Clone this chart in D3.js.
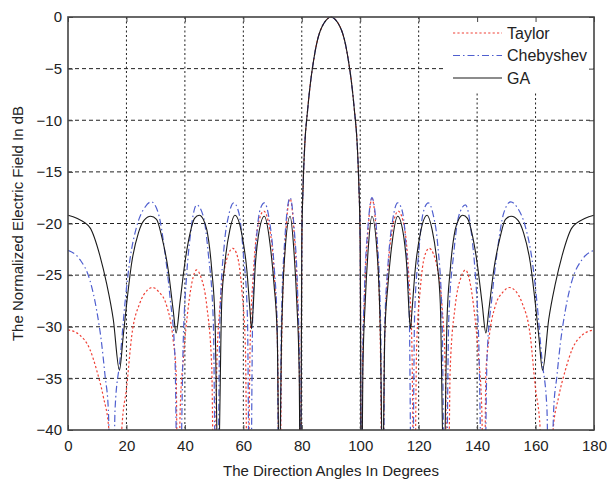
<!DOCTYPE html>
<html>
<head>
<meta charset="utf-8">
<script src="https://cdn.jsdelivr.net/npm/d3@7"></script>
<style>
    body { margin: 0; background: #fff; }
    svg { font-family: "Liberation Sans", Arial, sans-serif; }
</style>
</head>
<body>
<svg id="chart" width="607" height="483"></svg>
<script>
// Tick labels
const xTicks = [0, 20, 40, 60, 80, 100, 120, 140, 160, 180];
const yTicks = [0, -5, -10, -15, -20, -25, -30, -35, -40];

// Series names (legend order)
const seriesNames = ['Taylor', 'Chebyshev', 'GA'];

// Taylor pattern [angle, dB]
const taylor = [
    [0, -30.3], [4, -30.8], [7.5, -32.2], [9.8, -34.2], [12.1, -36.8], [14, -40], [16.2, -60], [18.4, -40],
    [20.1, -35.8], [21.8, -30.9], [24.6, -27.7], [27, -26.5], [29, -26.2], [31, -26.6], [33.8, -28], [36, -31.3],
    [37, -34.5], [37.6, -50], [38.4, -38], [39.5, -33], [41.2, -28], [42.5, -25.6], [44, -24.5], [45.5, -25.2],
    [47.5, -28], [49.2, -34], [50, -50], [50.9, -34], [52, -28], [53.5, -24.5], [55, -22.9], [56.4, -22.4],
    [58, -23.2], [59.5, -26.5], [60.7, -32], [61.5, -50], [62.3, -32], [63.4, -25], [64.8, -20.5], [67, -18.8],
    [69, -20.5], [70.6, -25], [71.7, -32], [72.4, -50], [73.1, -32], [74.2, -22.5], [76, -17.6], [77.4, -21],
    [78.5, -27], [79.2, -35], [79.6, -55], [80, -22], [80.5, -16], [81, -12.5], [82, -9], [83, -6.3],
    [84, -4.3], [85, -2.7], [86, -1.6], [87, -0.9], [88.5, -0.25], [90, 0],
    [91.5, -0.25], [93, -0.9], [94, -1.6], [95, -2.7], [96, -4.3], [97, -6.3], [98, -9], [99, -12.5],
    [99.5, -16], [100, -22], [100.4, -55], [100.8, -35], [101.5, -27], [102.6, -21], [104, -17.6], [105.8, -22.5],
    [106.9, -32], [107.6, -50], [108.3, -32], [109.4, -25], [111, -20.5], [113, -18.8], [115.2, -20.5], [116.6, -25],
    [117.7, -32], [118.5, -50], [119.3, -32], [120.5, -26.5], [122, -23.2], [123.6, -22.4], [125, -22.9], [126.5, -24.5],
    [128, -28], [129.1, -34], [130, -50], [130.8, -34], [132.5, -28], [134.5, -25.2], [136, -24.5], [137.5, -25.6],
    [138.8, -28], [140.5, -33], [141.6, -38], [142.4, -50], [143, -34.5], [144, -31.3], [146.2, -28], [149, -26.6],
    [151, -26.2], [153, -26.5], [155.4, -27.7], [158.2, -30.9], [159.9, -35.8], [161.6, -40], [163.8, -60], [166, -40],
    [167.9, -36.8], [170.2, -34.2], [172.5, -32.2], [176, -30.8], [180, -30.3]
];

// Chebyshev pattern [angle, dB]
const chebyshev = [
    [0, -22.6], [4.1, -23.5], [7.5, -25.5], [9.8, -28.4], [11.5, -31.6], [12.7, -34.8], [13.8, -38], [15.2, -55],
    [16.1, -38], [17.8, -33.2], [19.5, -27.7], [21.2, -23.5], [23.5, -20.3], [26.4, -18.4], [28.5, -17.9], [30.9, -19],
    [33.2, -22.9], [34.9, -27.1], [36.6, -33], [37.8, -55], [39.5, -30.8], [40.6, -25], [41.8, -21.3], [44, -18.2],
    [46.3, -19.3], [48, -22.9], [49.7, -29.3], [50.9, -55], [52, -29], [53.5, -22], [55, -19.2], [56.7, -18],
    [58.5, -19], [60, -22.9], [61.4, -29], [62.3, -55], [63.2, -29], [64.5, -21.5], [65.8, -18.6], [67.2, -18],
    [68.8, -19.5], [70.5, -24], [71.6, -30], [72.3, -55], [73, -30], [74.2, -21.5], [76, -17.5], [77.4, -20.5],
    [78.5, -26], [79.2, -34], [79.6, -55], [80, -22], [80.5, -16], [81, -12.5], [82, -9], [83, -6.3],
    [84, -4.3], [85, -2.7], [86, -1.6], [87, -0.9], [88.5, -0.25], [90, 0],
    [91.5, -0.25], [93, -0.9], [94, -1.6], [95, -2.7], [96, -4.3], [97, -6.3], [98, -9], [99, -12.5],
    [99.5, -16], [100, -22], [100.4, -55], [100.8, -34], [101.5, -26], [102.6, -20.5], [104, -17.5], [105.8, -21.5],
    [107, -30], [107.7, -55], [108.4, -30], [109.5, -24], [111.2, -19.5], [112.8, -18], [114.2, -18.6], [115.5, -21.5],
    [116.8, -29], [117.7, -55], [118.6, -29], [120, -22.9], [121.5, -19], [123.3, -18], [125, -19.2], [126.5, -22],
    [128, -29], [129.1, -55], [130.3, -29.3], [132, -22.9], [133.7, -19.3], [136, -18.2], [138.2, -21.3], [139.4, -25],
    [140.5, -30.8], [142.2, -55], [143.4, -33], [145.1, -27.1], [146.8, -22.9], [149.1, -19], [151.5, -17.9], [153.6, -18.4],
    [156.5, -20.3], [158.8, -23.5], [160.5, -27.7], [162.2, -33.2], [163.9, -38], [164.8, -55], [166.2, -38], [167.3, -34.8],
    [168.5, -31.6], [170.2, -28.4], [172.5, -25.5], [175.9, -23.5], [180, -22.6]
];

// GA pattern [angle, dB]
const ga = [
    [0, -19.2], [3, -19.5], [7.5, -20.4], [11, -23.2], [13.2, -25.8], [15.5, -29.3], [17.6, -34.2], [18.9, -30.9],
    [20.1, -27.7], [21.8, -23.8], [24.1, -20.9], [26, -19.7], [28.3, -19.3], [30.3, -19.6], [32.1, -21.3], [34.3, -24.5],
    [36, -28.4], [37, -30.6], [38.3, -27.7], [40, -23.8], [41.8, -20.9], [43.3, -19.5], [44.9, -19.2], [46.3, -19.6],
    [47.5, -20.6], [49.2, -24.5], [50.3, -29.3], [51.4, -45], [52.6, -27.7], [53.7, -23.8], [55.4, -20.6], [57.1, -19.2],
    [59.4, -20.9], [61.2, -24.5], [62.3, -28.5], [62.8, -30.2], [63.4, -28], [64, -24.5], [65.1, -21.3], [67.2, -19.3],
    [69.1, -21.9], [70.5, -25.9], [71.6, -30.8], [72.3, -45], [73.1, -30.8], [74, -23.8], [76, -19.3], [77.3, -22.6],
    [78.3, -27.7], [79.1, -34.2], [79.6, -50], [80, -22], [80.5, -16], [81, -12.5], [82, -9], [83, -6.3],
    [84, -4.3], [85, -2.7], [86, -1.6], [87, -0.9], [88.5, -0.25], [90, 0],
    [91.5, -0.25], [93, -0.9], [94, -1.6], [95, -2.7], [96, -4.3], [97, -6.3], [98, -9], [99, -12.5],
    [99.5, -16], [100, -22], [100.4, -50], [100.9, -34.2], [101.7, -27.7], [102.7, -22.6], [104, -19.3], [106, -23.8],
    [106.9, -30.8], [107.7, -45], [108.4, -30.8], [109.5, -25.9], [110.9, -21.9], [112.8, -19.3], [114.9, -21.3], [116, -24.5],
    [116.6, -28], [117.2, -30.2], [117.7, -28.5], [118.8, -24.5], [120.6, -20.9], [122.9, -19.2], [124.6, -20.6], [126.3, -23.8],
    [127.4, -27.7], [128.6, -45], [129.7, -29.3], [130.8, -24.5], [132.5, -20.6], [133.7, -19.6], [135.1, -19.2], [136.7, -19.5],
    [138.2, -20.9], [140, -23.8], [141.7, -27.7], [143, -30.6], [144, -28.4], [145.7, -24.5], [147.9, -21.3], [149.7, -19.6],
    [151.7, -19.3], [154, -19.7], [155.9, -20.9], [158.2, -23.8], [159.9, -27.7], [161.1, -30.9], [162.4, -34.2], [164.5, -29.3],
    [166.8, -25.8], [169, -23.2], [172.5, -20.4], [177, -19.5], [180, -19.2]
];

/**
 * Chart zeichnen
 */
function drawChart() {
    const svg = d3.select('#chart');
    const margin = { top: 17, right: 13, bottom: 53, left: 68 };
    const width = 607 - margin.left - margin.right;
    const height = 483 - margin.top - margin.bottom;

    const g = svg.append('g')
        .attr('transform', `translate(${margin.left},${margin.top})`);

    // Skalen
    const xScale = d3.scaleLinear().domain([0, 180]).range([0, width]);
    const yScale = d3.scaleLinear().domain([-40, 0]).range([height, 0]);

    // Gitter
    g.append('g')
        .selectAll('line')
        .data(xTicks.slice(1, -1))
        .enter()
        .append('line')
        .attr('x1', d => xScale(d))
        .attr('x2', d => xScale(d))
        .attr('y1', 0)
        .attr('y2', height)
        .style('stroke', '#222')
        .style('stroke-width', 1)
        .style('stroke-dasharray', '2,2.5');

    g.append('g')
        .selectAll('line')
        .data(yTicks.slice(1, -1))
        .enter()
        .append('line')
        .attr('x1', 0)
        .attr('x2', width)
        .attr('y1', d => yScale(d))
        .attr('y2', d => yScale(d))
        .style('stroke', '#222')
        .style('stroke-width', 1)
        .style('stroke-dasharray', '4,3');

    // Clip
    svg.append('defs').append('clipPath')
        .attr('id', 'plot-clip')
        .append('rect')
        .attr('x', 0)
        .attr('y', -1)
        .attr('width', width)
        .attr('height', height + 1);

    const line = d3.line()
        .x(d => xScale(d[0]))
        .y(d => yScale(d[1]))
        .curve(d3.curveMonotoneX);

    const styles = [
        { data: taylor, color: '#ef4136', dash: '2.2,2.2', w: 1.2 },
        { data: chebyshev, color: '#4f5fcf', dash: '7,3,1.5,3', w: 1.2 },
        { data: ga, color: '#1a1a1a', dash: null, w: 1.1 }
    ];

    const lines = g.append('g').attr('clip-path', 'url(#plot-clip)');
    styles.forEach(s => {
        lines.append('path')
            .datum(s.data)
            .attr('d', line)
            .style('fill', 'none')
            .style('stroke', s.color)
            .style('stroke-width', s.w)
            .style('stroke-dasharray', s.dash);
    });

    // Legende (weisser Hintergrund)
    const legend = g.append('g')
        .attr('transform', `translate(${width - 151}, 0)`);

    legend.append('rect')
        .attr('width', 150)
        .attr('height', 76)
        .attr('fill', '#fff');

    seriesNames.forEach((name, i) => {
        const y = 16 + i * 22.5;
        legend.append('line')
            .attr('x1', 10)
            .attr('x2', 59)
            .attr('y1', y)
            .attr('y2', y)
            .style('stroke', styles[i].color)
            .style('stroke-width', styles[i].w)
            .style('stroke-dasharray', styles[i].dash);
        legend.append('text')
            .attr('x', 64)
            .attr('y', y + 5.5)
            .style('font-size', '16px')
            .style('fill', '#222')
            .text(name);
    });

    // Achsen (Ticks nach innen)
    g.append('g')
        .attr('class', 'axis x-axis')
        .attr('transform', `translate(0,${height})`)
        .call(d3.axisBottom(xScale).tickValues(xTicks).tickSize(-5).tickPadding(10))
        .call(a => a.select('.domain').remove());

    g.append('g')
        .attr('class', 'axis y-axis')
        .call(d3.axisLeft(yScale).tickValues(yTicks).tickSize(-5).tickPadding(6))
        .call(a => a.select('.domain').remove());

    g.append('g')
        .attr('transform', `translate(${width},0)`)
        .call(d3.axisRight(yScale).tickValues(yTicks).tickSize(-5).tickFormat(''))
        .call(a => a.select('.domain').remove());

    g.append('g')
        .call(d3.axisTop(xScale).tickValues(xTicks).tickSize(-5).tickFormat(''))
        .call(a => a.select('.domain').remove());

    g.selectAll('.tick line').style('stroke', '#444');
    g.selectAll('.axis text')
        .style('font-size', '15px')
        .style('fill', '#222')
        .style('font-family', '"Liberation Sans", Arial, sans-serif');

    // Rahmen
    g.append('rect')
        .attr('width', width)
        .attr('height', height)
        .style('fill', 'none')
        .style('stroke', '#444')
        .style('stroke-width', 1.6);

    // Achsenbeschriftungen
    svg.append('text')
        .attr('x', margin.left + width / 2)
        .attr('y', 476)
        .attr('text-anchor', 'middle')
        .style('font-size', '15px')
        .style('fill', '#222')
        .text('The Direction Angles In Degrees');

    svg.append('text')
        .attr('transform', `translate(23,${margin.top + height / 2}) rotate(-90)`)
        .attr('text-anchor', 'middle')
        .style('font-size', '15px')
        .style('fill', '#222')
        .text('The Normalized Electric Field In dB');
}

drawChart();
</script>
</body>
</html>
